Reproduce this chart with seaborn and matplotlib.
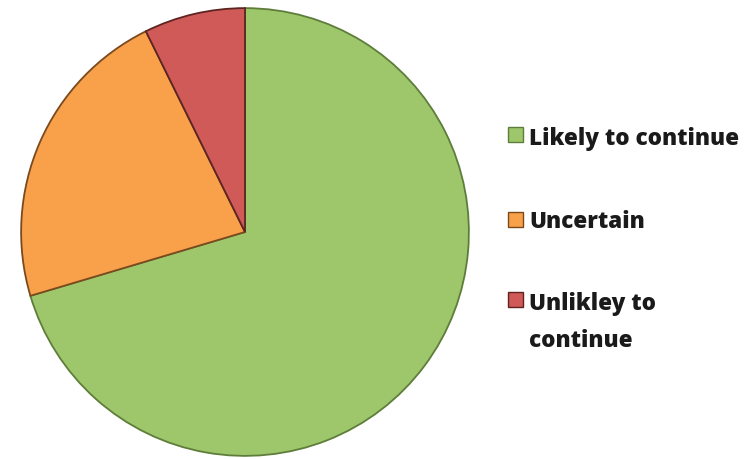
import matplotlib
matplotlib.use("Agg")
import matplotlib.pyplot as plt
from matplotlib.patches import Rectangle
import seaborn as sns

labels = ["Likely to continue", "Uncertain", "Unlikley to\ncontinue"]
values = [70.4, 22.3, 7.3]
colors = ["#9DC76A", "#F8A04A", "#D05A58"]
edges = ["#5E7D3A", "#7A4A1E", "#5E2422"]

sns.set_theme(style="white")
plt.rcParams['font.family'] = ['Open Sans', 'DejaVu Sans']

fig = plt.figure(figsize=(7.56, 4.60), dpi=100)
W, H = 756, 460
cx, cy, r = 245, 233, 225
ax = fig.add_axes([(cx - r) / W, (H - (cy + r)) / H, 2 * r / W, 2 * r / H])
wedges, _ = ax.pie(values, colors=colors, startangle=90, counterclock=False,
                   wedgeprops=dict(linewidth=1.3))
for w, e in zip(wedges, edges):
    w.set_edgecolor(e)
ax.set_xlim(-1.005, 1.005)
ax.set_ylim(-1.005, 1.005)
ax.set_axis_off()

# legend drawn manually (square centre y, first-line baseline y)
squares = [135, 220, 300]
baselines = [145, 228, 310]
for lab, c, e, ys, yb in zip(labels, colors, edges, squares, baselines):
    s = 15
    fig.patches.append(Rectangle(((515 - s / 2) / W, (H - ys - s / 2) / H), s / W, s / H,
                                 transform=fig.transFigure, facecolor=c,
                                 edgecolor=e, linewidth=1.0))
    first, *rest = lab.split("\n")
    fig.text(529 / W, (H - yb) / H, first, ha="left", va="baseline", fontsize=16.2,
             fontweight="heavy", color="#1a1a1a")
    for i, line in enumerate(rest, start=1):
        fig.text(529 / W, (H - yb - 37 * i) / H, line, ha="left", va="baseline",
                 fontsize=16.2, fontweight="heavy", color="#1a1a1a")

fig.savefig("out.png", dpi=100, facecolor="white")
